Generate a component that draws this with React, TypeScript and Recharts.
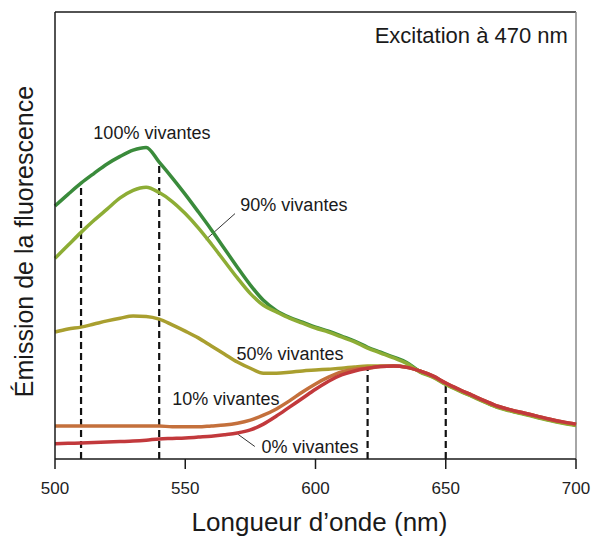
import React from "react";
import { LineChart, Line, XAxis, YAxis, ReferenceLine, ReferenceDot } from "recharts";

const FONT = '"Liberation Sans", Arial, Helvetica, sans-serif';

// wavelength (nm), every 5 nm
const wavelengths = [
  500, 505, 510, 515, 520, 525, 530, 535, 540, 545, 550, 555, 560, 565, 570, 575, 580, 585, 590, 595, 600,
  605, 610, 615, 620, 625, 630, 635, 640, 645, 650, 655, 660, 665, 670, 675, 680, 685, 690, 695, 700,
];

// emission, arbitrary units (0-100 over the plot height)
const vivantes100 = [
  56.6, 59.2, 61.7, 63.9, 66.0, 67.7, 69.1, 69.7, 66.4, 62.9, 59.2, 55.3, 51.3, 47.1, 42.9, 38.9, 35.5,
  33.2, 31.7, 30.6, 29.5, 28.6, 27.5, 26.4, 25.0, 23.9, 22.8, 21.6, 19.6, 18.4, 16.8, 15.4, 14.1, 12.8,
  11.6, 10.8, 10.1, 9.4, 8.7, 8.1, 7.6,
];
const vivantes90 = [
  44.9, 47.8, 50.7, 53.4, 55.9, 58.4, 60.1, 60.8, 59.6, 57.6, 54.9, 51.7, 48.1, 44.3, 40.5, 37.0, 34.4,
  32.9, 31.5, 30.4, 29.3, 28.4, 27.3, 26.2, 24.8, 23.7, 22.6, 21.4, 19.5, 18.3, 16.7, 15.3, 14.0, 12.7,
  11.5, 10.7, 10.0, 9.3, 8.6, 8.0, 7.5,
];
const vivantes50 = [
  28.4, 29.1, 29.5, 30.2, 30.9, 31.5, 32.0, 31.9, 31.3, 30.0, 28.6, 27.1, 25.3, 23.5, 21.7, 20.3, 19.2,
  19.2, 19.4, 19.7, 19.9, 20.1, 20.3, 20.6, 20.8, 20.8, 20.8, 20.6, 19.7, 18.5, 16.9, 15.5, 14.2, 12.9,
  11.7, 10.9, 10.2, 9.5, 8.8, 8.2, 7.7,
];
const vivantes10 = [
  7.4, 7.4, 7.4, 7.4, 7.4, 7.4, 7.4, 7.4, 7.4, 7.2, 7.2, 7.2, 7.4, 7.6, 8.0, 8.7, 9.8, 11.2, 13.0, 15.0,
  16.8, 18.3, 19.5, 20.1, 20.3, 20.7, 20.8, 20.5, 19.7, 18.6, 17.0, 15.6, 14.3, 13.0, 11.8, 11.0, 10.3,
  9.6, 8.9, 8.3, 7.8,
];
const vivantes0 = [
  3.4, 3.5, 3.6, 3.7, 3.8, 3.9, 4.0, 4.2, 4.5, 4.6, 4.7, 4.9, 5.1, 5.4, 5.8, 6.5, 7.8, 9.6, 11.6, 13.6,
  15.6, 17.4, 18.8, 19.7, 20.3, 20.7, 20.8, 20.5, 19.7, 18.6, 17.0, 15.6, 14.3, 13.0, 11.8, 11.0, 10.3,
  9.6, 8.9, 8.3, 7.8,
];

const xTicks = [500, 550, 600, 650, 700];

const series = [
  { key: "v100", color: "#3a8b3b" },
  { key: "v90", color: "#8dad35" },
  { key: "v50", color: "#a99f2f" },
  { key: "v10", color: "#c4703c" },
  { key: "v0", color: "#c2393c" },
];

// curve labels (centre, data units)
const curveLabels = [
  { text: "100% vivantes", x: 537.2, y: 73.0 },
  { text: "90% vivantes", x: 591.7, y: 57.0 },
  { text: "50% vivantes", x: 590.2, y: 23.6 },
  { text: "10% vivantes", x: 565.6, y: 13.5 },
  { text: "0% vivantes", x: 597.9, y: 2.7 },
];

// dashed drop lines: wavelength and curve value where they stop
const dropLines = [
  { x: 510, top: 61.7 },
  { x: 540, top: 66.4 },
  { x: 620, top: 20.3 },
  { x: 650, top: 17.0 },
];

// thin leader lines from label to curve
const leaders = [
  [{ x: 557.9, y: 49.1 }, { x: 569.1, y: 54.9 }],
  [{ x: 570.3, y: 5.5 }, { x: 576.7, y: 2.8 }],
];

const data = wavelengths.map((w, i) => ({
  w,
  v100: vivantes100[i],
  v90: vivantes90[i],
  v50: vivantes50[i],
  v10: vivantes10[i],
  v0: vivantes0[i],
}));

const XTitle = (props: any) => {
  const vb = props.viewBox ?? { x: 55, y: 459, width: 521, height: 80 };
  return (
    <text
      x={vb.x + vb.width / 2 + 4}
      y={vb.y + 72}
      textAnchor="middle"
      fontSize={26}
      fontFamily={FONT}
      fill="#1a1a1a"
    >
      Longueur d’onde (nm)
    </text>
  );
};

const YTitle = (props: any) => {
  const vb = props.viewBox ?? { x: 0, y: 12, width: 55, height: 447 };
  const cx = 33;
  const cy = vb.y + vb.height / 2 + 6;
  return (
    <text
      x={cx}
      y={cy}
      transform={`rotate(-90, ${cx}, ${cy})`}
      textAnchor="middle"
      fontSize={25}
      fontFamily={FONT}
      fill="#1a1a1a"
    >
      Émission de la fluorescence
    </text>
  );
};

export default function App() {
  return (
    <div style={{ position: "absolute", left: 0, top: 0, background: "#fff" }}>
      <LineChart width={592} height={539} data={data} margin={{ top: 12, right: 16, bottom: 0, left: 0 }}>
        <XAxis
          dataKey="w"
          type="number"
          domain={[500, 700]}
          ticks={xTicks}
          height={80}
          tickSize={10}
          tickMargin={13}
          tick={{ fontSize: 17, fill: "#222", fontFamily: FONT }}
          axisLine={{ stroke: "#1a1a1a", strokeWidth: 1.5 }}
          tickLine={{ stroke: "#1a1a1a", strokeWidth: 1.5 }}
          label={<XTitle />}
        />
        <YAxis
          type="number"
          domain={[0, 100]}
          width={55}
          tick={false}
          tickLine={false}
          axisLine={{ stroke: "#1a1a1a", strokeWidth: 1.5 }}
          label={<YTitle />}
        />

        {/* frame: top and right */}
        <ReferenceLine y={100} stroke="#1a1a1a" strokeWidth={1.5} />
        <ReferenceLine x={700} stroke="#888" strokeWidth={1.5} />

        {dropLines.map((d) => (
          <ReferenceLine
            key={d.x}
            segment={[
              { x: d.x, y: 0 },
              { x: d.x, y: d.top },
            ]}
            stroke="#111"
            strokeWidth={2.2}
            strokeDasharray="7 4"
          />
        ))}

        {leaders.map((seg, i) => (
          <ReferenceLine key={`lead-${i}`} segment={seg} stroke="#333" strokeWidth={1} />
        ))}

        {series.map((s) => (
          <Line
            key={s.key}
            dataKey={s.key}
            type="monotone"
            stroke={s.color}
            strokeWidth={3.5}
            dot={false}
            activeDot={false}
            isAnimationActive={false}
          />
        ))}

        {curveLabels.map((l) => (
          <ReferenceDot
            key={l.text}
            x={l.x}
            y={l.y}
            r={0}
            fill="none"
            stroke="none"
            label={{ value: l.text, position: "center", fontSize: 18, fill: "#1a1a1a", fontFamily: FONT }}
          />
        ))}
        <ReferenceDot
          x={696.9}
          y={94.8}
          r={0}
          fill="none"
          stroke="none"
          label={{ value: "Excitation à 470 nm", position: "left", offset: 0, fontSize: 22, fill: "#1a1a1a", fontFamily: FONT }}
        />
      </LineChart>
    </div>
  );
}
